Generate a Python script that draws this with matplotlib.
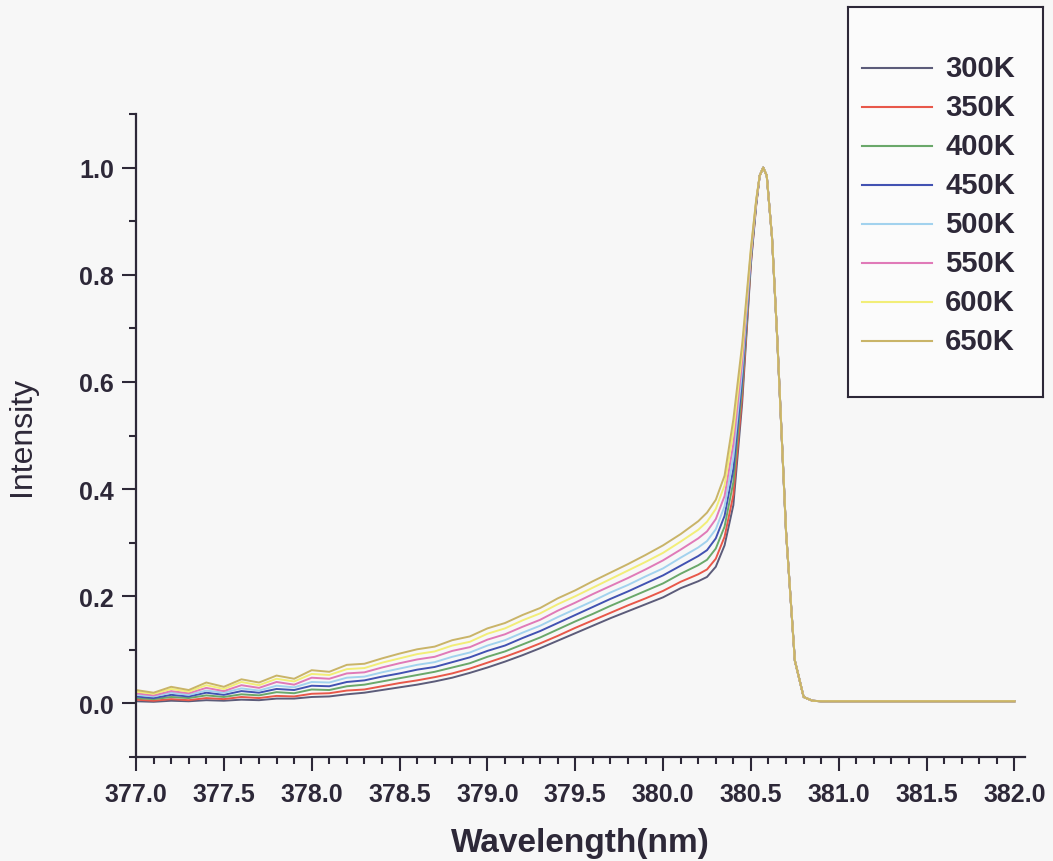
import matplotlib
matplotlib.use("Agg")
import matplotlib.pyplot as plt
from matplotlib.ticker import MultipleLocator, FormatStrFormatter

# wavelengths (nm) on the rising side, shared by all curves
wl_rise = [377.0, 377.1, 377.2, 377.3, 377.4, 377.5, 377.6, 377.7, 377.8, 377.9,
           378.0, 378.1, 378.2, 378.3, 378.4, 378.5, 378.6, 378.7, 378.8, 378.9,
           379.0, 379.1, 379.2, 379.3, 379.4, 379.5, 379.6, 379.7, 379.8, 379.9,
           380.0, 380.1, 380.2, 380.25, 380.3, 380.35, 380.4, 380.45, 380.5, 380.53]

i300 = [0.004, 0.003, 0.005, 0.004, 0.006, 0.005, 0.007, 0.006, 0.009, 0.009,
        0.012, 0.013, 0.017, 0.020, 0.025, 0.030, 0.035, 0.041, 0.048, 0.057,
        0.067, 0.078, 0.090, 0.103, 0.117, 0.131, 0.145, 0.159, 0.172, 0.185,
        0.198, 0.215, 0.228, 0.236, 0.255, 0.295, 0.370, 0.560, 0.820, 0.930]
i350 = [0.007, 0.005, 0.008, 0.006, 0.010, 0.008, 0.012, 0.010, 0.014, 0.013,
        0.018, 0.019, 0.024, 0.026, 0.032, 0.038, 0.043, 0.049, 0.056, 0.065,
        0.076, 0.087, 0.099, 0.112, 0.126, 0.141, 0.155, 0.169, 0.183, 0.196,
        0.210, 0.227, 0.241, 0.250, 0.270, 0.311, 0.389, 0.573, 0.824, 0.931]
i400 = [0.010, 0.008, 0.012, 0.010, 0.015, 0.012, 0.017, 0.015, 0.021, 0.019,
        0.026, 0.025, 0.032, 0.035, 0.041, 0.047, 0.053, 0.059, 0.067, 0.075,
        0.087, 0.097, 0.110, 0.123, 0.138, 0.153, 0.167, 0.182, 0.196, 0.210,
        0.224, 0.242, 0.258, 0.268, 0.289, 0.330, 0.413, 0.590, 0.828, 0.933]
i450 = [0.013, 0.010, 0.016, 0.013, 0.020, 0.016, 0.023, 0.020, 0.027, 0.025,
        0.033, 0.032, 0.040, 0.043, 0.050, 0.056, 0.063, 0.068, 0.077, 0.086,
        0.098, 0.108, 0.122, 0.135, 0.150, 0.165, 0.180, 0.195, 0.209, 0.224,
        0.239, 0.257, 0.275, 0.286, 0.308, 0.350, 0.437, 0.606, 0.833, 0.934]
i500 = [0.016, 0.013, 0.020, 0.016, 0.024, 0.020, 0.028, 0.024, 0.033, 0.030,
        0.040, 0.039, 0.048, 0.050, 0.058, 0.065, 0.072, 0.077, 0.087, 0.095,
        0.108, 0.118, 0.132, 0.145, 0.161, 0.176, 0.191, 0.207, 0.221, 0.237,
        0.252, 0.272, 0.291, 0.303, 0.325, 0.368, 0.460, 0.622, 0.837, 0.936]
i550 = [0.019, 0.015, 0.023, 0.019, 0.029, 0.023, 0.034, 0.029, 0.040, 0.035,
        0.048, 0.046, 0.056, 0.058, 0.067, 0.075, 0.082, 0.087, 0.098, 0.105,
        0.119, 0.129, 0.143, 0.156, 0.173, 0.188, 0.204, 0.219, 0.234, 0.250,
        0.267, 0.287, 0.308, 0.321, 0.344, 0.387, 0.484, 0.638, 0.841, 0.937]
i600 = [0.022, 0.018, 0.027, 0.022, 0.034, 0.027, 0.040, 0.034, 0.046, 0.041,
        0.055, 0.053, 0.064, 0.066, 0.076, 0.084, 0.092, 0.097, 0.108, 0.115,
        0.130, 0.140, 0.155, 0.168, 0.185, 0.200, 0.216, 0.232, 0.248, 0.264,
        0.281, 0.302, 0.324, 0.339, 0.363, 0.407, 0.508, 0.655, 0.846, 0.939]
i650 = [0.025, 0.020, 0.031, 0.025, 0.039, 0.031, 0.045, 0.039, 0.052, 0.046,
        0.062, 0.059, 0.072, 0.074, 0.084, 0.093, 0.101, 0.106, 0.118, 0.125,
        0.140, 0.150, 0.165, 0.178, 0.196, 0.211, 0.228, 0.244, 0.260, 0.277,
        0.295, 0.316, 0.340, 0.356, 0.380, 0.425, 0.530, 0.670, 0.850, 0.940]

# peak and falling edge, the same for every temperature
wl_tail = [380.55, 380.57, 380.59, 380.62, 380.65, 380.7, 380.75, 380.8, 380.85,
           380.9, 381.0, 381.5, 382.0]
i_tail = [0.985, 1.0, 0.985, 0.87, 0.68, 0.32, 0.08, 0.012, 0.005,
          0.004, 0.004, 0.004, 0.004]

labels = ["300K", "350K", "400K", "450K", "500K", "550K", "600K", "650K"]
series = [i300, i350, i400, i450, i500, i550, i600, i650]
colors = ["#5c5c7a", "#e8584a", "#6aa86a", "#4252b2",
          "#a2d2ee", "#e07ab8", "#f2ee78", "#c9b468"]

bg = "#f7f7f7"
ink = "#2d2838"
plt.rcParams["font.family"] = ["Liberation Sans", "DejaVu Sans"]

fig = plt.figure(figsize=(10.53, 8.62), dpi=100, facecolor=bg)
ax = fig.add_axes([136 / 1053, 104 / 862, 889 / 1053, 643 / 862], facecolor=bg)

for lab, vals, c in zip(labels, series, colors):
    ax.plot(wl_rise + wl_tail, vals + i_tail, color=c, lw=1.4, label=lab)

ax.set_xlim(377.0, 382.06)
ax.set_ylim(-0.1, 1.1)
ax.xaxis.set_major_locator(MultipleLocator(0.5))
ax.xaxis.set_minor_locator(MultipleLocator(0.1))
ax.yaxis.set_major_locator(MultipleLocator(0.2))
ax.yaxis.set_minor_locator(MultipleLocator(0.1))
ax.xaxis.set_major_formatter(FormatStrFormatter("%.1f"))
ax.yaxis.set_major_formatter(FormatStrFormatter("%.1f"))

for s in ["top", "right"]:
    ax.spines[s].set_visible(False)
for s in ["left", "bottom"]:
    ax.spines[s].set_color(ink)
    ax.spines[s].set_linewidth(1.6)

ax.tick_params(which="major", direction="out", length=10, width=1.5, color=ink,
               labelsize=18, labelcolor=ink)
ax.tick_params(axis="x", which="major", pad=8)
ax.tick_params(axis="y", which="major", pad=6)
ax.tick_params(which="minor", direction="out", length=5, width=1.5, color=ink)
for t in ax.get_xticklabels() + ax.get_yticklabels():
    t.set_fontweight("bold")

ax.set_xlabel("Wavelength(nm)", fontsize=24, color=ink, fontweight="bold", labelpad=15)
ax.set_ylabel("Intensity", fontsize=23, color=ink, labelpad=30)

# legend box drawn in its own small axes, in pixel-like units
lax = fig.add_axes([848 / 1053, 464 / 862, 195 / 1053, 390 / 862], facecolor="#fbfbfb")
lax.set_xlim(0, 195)
lax.set_ylim(390, 0)
lax.set_xticks([])
lax.set_yticks([])
for s in lax.spines.values():
    s.set_color(ink)
    s.set_linewidth(1.5)
for k, (lab, c) in enumerate(zip(labels, colors)):
    yy = 61 + 39 * k
    lax.plot([14, 84], [yy, yy], color=c, lw=1.5)
    lax.text(97, yy, lab, fontsize=21, fontweight="bold", color=ink, va="center", ha="left")

fig.savefig("out.png", dpi=100, facecolor=bg)
